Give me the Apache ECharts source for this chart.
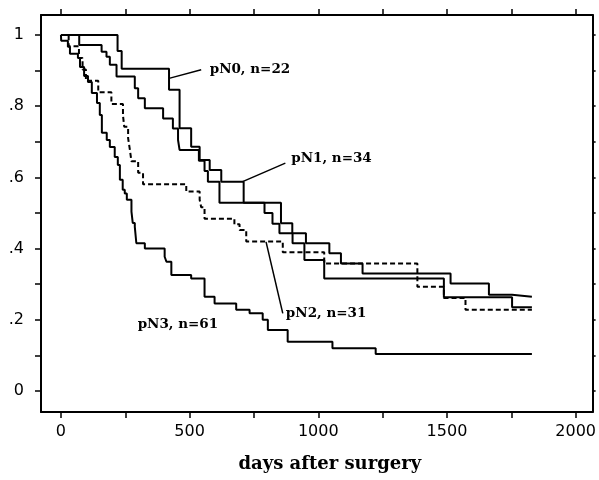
<!DOCTYPE html>
<html><head><meta charset="utf-8">
<script src="https://cdn.jsdelivr.net/npm/echarts@6/dist/echarts.min.js"></script>
<style>html,body{margin:0;padding:0;background:#fff}#c{width:599px;height:480px}</style>
</head><body><div id="c"></div>
<script>
// Tick values
const xTicks = [0, 250, 500, 750, 1000, 1250, 1500, 1750, 2000];
const xLabels = [0, 500, 1000, 1500, 2000];
const yTicks = [0, 0.1, 0.2, 0.3, 0.4, 0.5, 0.6, 0.7, 0.8, 0.9, 1];
const yLabels = [0, 0.2, 0.4, 0.6, 0.8, 1];

// Kaplan-Meier step data: [day, survival after event]
const pN0 = [[0,1],[220,0.955],[236,0.905],[420,0.846],[461,0.738],[506,0.686],[539,0.649],[578,0.621],[623,0.588],[710,0.529],[855,0.471],[899,0.443],[952,0.415],[1043,0.387],[1088,0.358],[1172,0.33],[1514,0.302],[1663,0.27],[1753,0.265],[1830,0.265]];
const pN1 = [[0,1],[71,0.972],[158,0.953],[177,0.939],[190,0.916],[216,0.883],[287,0.85],[300,0.822],[326,0.794],[397,0.765],[435,0.737],[455,0.705],[461,0.677],[536,0.647],[558,0.618],[571,0.588],[616,0.529],[791,0.5],[822,0.47],[849,0.443],[900,0.415],[946,0.368],[1023,0.316],[1488,0.263],[1753,0.235],[1830,0.235]];
const pN2 = [[0,1],[30,0.968],[70,0.935],[84,0.903],[97,0.871],[145,0.839],[196,0.806],[241,0.774],[246,0.742],[261,0.71],[268,0.677],[274,0.645],[300,0.613],[319,0.581],[487,0.56],[539,0.537],[545,0.516],[558,0.484],[674,0.468],[694,0.452],[720,0.42],[862,0.39],[1023,0.358],[1385,0.293],[1488,0.261],[1572,0.228],[1830,0.228]];
const pN3 = [[0,1],[1,0.984],[27,0.967],[35,0.947],[66,0.935],[74,0.91],[90,0.885],[105,0.868],[120,0.837],[140,0.809],[151,0.775],[159,0.725],[178,0.705],[190,0.685],[209,0.657],[221,0.635],[229,0.593],[240,0.565],[248,0.555],[256,0.537],[274,0.504],[279,0.472],[287,0.461],[293,0.415],[326,0.4],[403,0.377],[410,0.363],[429,0.326],[506,0.316],[558,0.265],[597,0.246],[681,0.228],[733,0.218],[784,0.2],[804,0.171],[881,0.138],[1055,0.12],[1223,0.104],[1830,0.104]];

const seriesNames = ['pN0, n=22', 'pN1, n=34', 'pN2, n=31', 'pN3, n=61'];

const chart = echarts.init(document.getElementById('c'), null, {renderer: 'canvas'});
const black = '#000';
function fmtY(v) {
  if (v === 0) return '0';
  if (v === 1) return '1';
  return String(v).replace(/^0/, '');
}
function fmtX(v) { return String(v); }
const xBase = {
  type: 'value', min: -77.5, max: 2066,
  axisLine: {show: true, onZero: false, lineStyle: {color: black, width: 2}},
  splitLine: {show: false}
};
const yBase = {
  type: 'value', min: -0.059, max: 1.056,
  axisLine: {show: true, onZero: false, lineStyle: {color: black, width: 2}},
  splitLine: {show: false}
};
function line(data, dashed) {
  return {
    type: 'line', step: 'end', data: data, symbol: 'none', silent: true,
    lineStyle: {color: black, width: 2, type: dashed ? [5, 3] : 'solid'},
    animation: false
  };
}
chart.setOption({
  animation: false,
  backgroundColor: '#fff',
  grid: {left: 41, right: 5, top: 15, bottom: 68, containLabel: false},
  xAxis: [
    Object.assign({}, xBase, {
      position: 'bottom',
      axisTick: {show: true, customValues: xTicks, length: 6, lineStyle: {color: black, width: 1.5}},
      axisLabel: {show: true, customValues: xLabels, margin: 12, color: black, fontFamily: 'DejaVu Sans', fontSize: 16, formatter: fmtX},
      name: 'days after surgery', nameLocation: 'middle', nameGap: 43,
      nameTextStyle: {color: black, fontFamily: 'DejaVu Serif', fontWeight: 'bold', fontSize: 18, padding: [0, 0, 0, 26]}
    }),
    Object.assign({}, xBase, {
      position: 'top',
      axisTick: {show: true, customValues: xTicks, length: 6, lineStyle: {color: black, width: 1.5}},
      axisLabel: {show: false}
    })
  ],
  yAxis: [
    Object.assign({}, yBase, {
      position: 'left',
      axisTick: {show: true, customValues: yTicks, length: 6, lineStyle: {color: black, width: 1.5}},
      axisLabel: {show: true, customValues: yLabels, margin: 17, color: black, fontFamily: 'DejaVu Sans', fontSize: 16, formatter: fmtY}
    }),
    Object.assign({}, yBase, {
      position: 'right',
      axisTick: {show: true, customValues: yTicks, length: 3, lineStyle: {color: black, width: 1.5}},
      axisLabel: {show: false}
    })
  ],
  series: [
    Object.assign(line(pN0, false), {name: seriesNames[0],
      markLine: {silent: true, symbol: 'none', label: {show: false}, lineStyle: {color: black, width: 1.5, type: 'solid'},
        data: [[{coord: [420, 0.878]}, {coord: [545, 0.902]}]]}}),
    Object.assign(line(pN1, false), {name: seriesNames[1],
      markLine: {silent: true, symbol: 'none', label: {show: false}, lineStyle: {color: black, width: 1.5, type: 'solid'},
        data: [[{coord: [706, 0.588]}, {coord: [872, 0.64]}]]}}),
    Object.assign(line(pN2, true), {name: seriesNames[2],
      markLine: {silent: true, symbol: 'none', label: {show: false}, lineStyle: {color: black, width: 1.5, type: 'solid'},
        data: [[{coord: [797, 0.419]}, {coord: [862, 0.218]}]]}}),
    Object.assign(line(pN3, false), {name: seriesNames[3]})
  ]
});

// Annotation labels anchored in data coordinates
const labelAnchors = [[578, 0.903], [895, 0.654], [874, 0.219], [298, 0.186]];
const graphics = labelAnchors.map(function (a, i) {
  const p = chart.convertToPixel({gridIndex: 0}, a);
  return {
    type: 'text', x: p[0], y: p[1], silent: true,
    style: {text: seriesNames[i], fill: black, font: 'bold 13.5px "DejaVu Serif"', textAlign: 'left', textVerticalAlign: 'middle'}
  };
});
chart.setOption({graphic: graphics});
</script>
</body></html>
